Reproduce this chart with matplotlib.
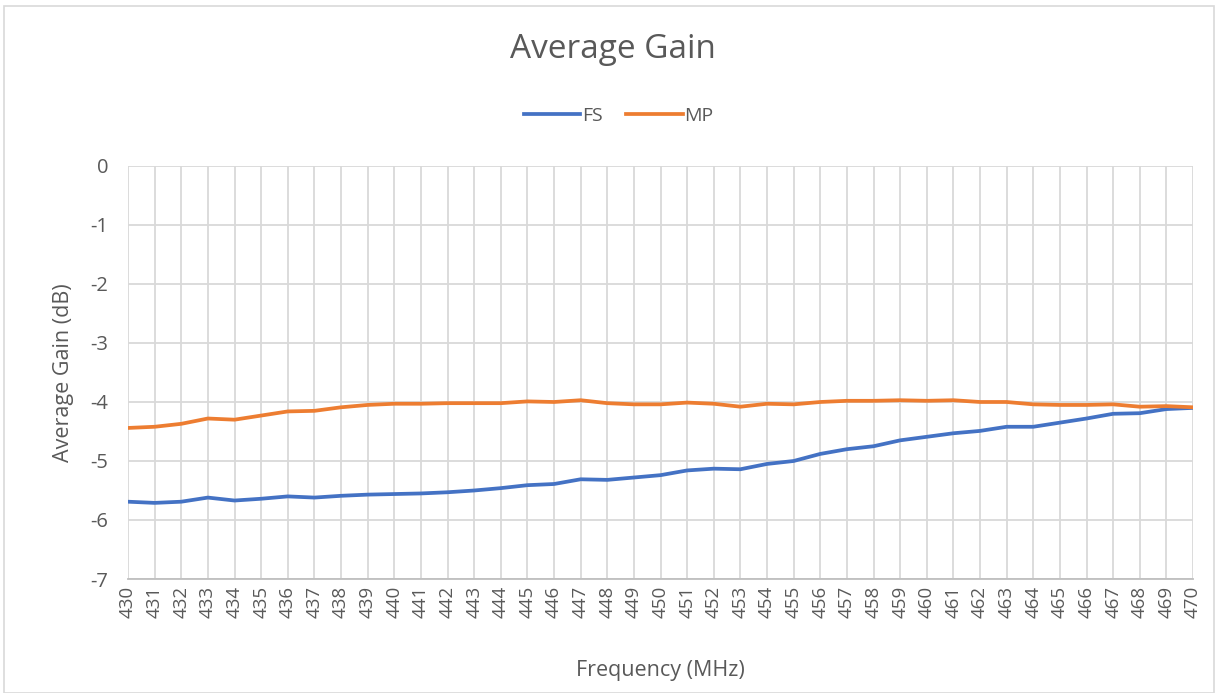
import matplotlib.pyplot as plt

# frequency points (MHz)
freqs = list(range(430, 471))

# average gain (dB)
fs_gain = [-5.69, -5.71, -5.69, -5.62, -5.67, -5.64, -5.60, -5.62, -5.59, -5.57,
           -5.56, -5.55, -5.53, -5.50, -5.46, -5.41, -5.39, -5.31, -5.32, -5.28,
           -5.24, -5.16, -5.13, -5.14, -5.05, -5.00, -4.88, -4.80, -4.75, -4.65,
           -4.59, -4.53, -4.49, -4.42, -4.42, -4.35, -4.28, -4.20, -4.19, -4.12,
           -4.10]
mp_gain = [-4.44, -4.42, -4.37, -4.28, -4.30, -4.23, -4.16, -4.15, -4.09, -4.05,
           -4.03, -4.03, -4.02, -4.02, -4.02, -3.99, -4.00, -3.97, -4.02, -4.04,
           -4.04, -4.01, -4.03, -4.08, -4.03, -4.04, -4.00, -3.98, -3.98, -3.97,
           -3.98, -3.97, -4.00, -4.00, -4.04, -4.05, -4.05, -4.04, -4.08, -4.07,
           -4.09]
y_ticks = [0, -1, -2, -3, -4, -5, -6, -7]

txt = '#595959'
plt.rcParams['font.family'] = ['Open Sans', 'DejaVu Sans']

fig = plt.figure(figsize=(12.18, 6.93), dpi=100)
ax = fig.add_axes([0.1051, 0.1645, 0.8744, 0.596])

x = list(range(len(freqs)))
ax.plot(x, fs_gain, color='#4472C4', lw=2.7, label='FS')
ax.plot(x, mp_gain, color='#ED7D31', lw=2.7, label='MP')

ax.set_xlim(0, len(freqs) - 1)
ax.set_ylim(-7, 0)
ax.set_xticks(x)
ax.set_xticklabels([str(f) for f in freqs], rotation=90, fontsize=13.5, color=txt)
ax.set_yticks(y_ticks)
ax.set_yticklabels([str(v) for v in y_ticks], fontsize=14.5, color=txt)
ax.tick_params(axis='x', length=0, pad=5)
ax.tick_params(axis='y', length=0, pad=14)
ax.grid(True, color='#D9D9D9', lw=1.3)
ax.set_axisbelow(True)
for s in ['top', 'right', 'left']:
    ax.spines[s].set_visible(False)
ax.spines['bottom'].set_color('#BFBFBF')
ax.spines['bottom'].set_linewidth(1.3)

ax.set_ylabel('Average Gain (dB)', fontsize=15.5, color=txt, labelpad=12)
ax.set_xlabel('Frequency (MHz)', fontsize=15.5, color=txt, labelpad=30)

fig.text(0.503, 0.928, 'Average Gain', ha='center', va='center', fontsize=24, color=txt)
fig.legend(loc='center', bbox_to_anchor=(0.508, 0.833), ncol=2, frameon=False,
           fontsize=14, labelcolor=txt, handlelength=2.9, handletextpad=0.1,
           columnspacing=1.2)

# chart border
fig.patches.append(plt.Rectangle((0.003, 0.0), 0.994, 0.991, transform=fig.transFigure,
                                 fill=False, edgecolor='#D9D9D9', lw=1.2))

fig.savefig('out.png', dpi=100)
